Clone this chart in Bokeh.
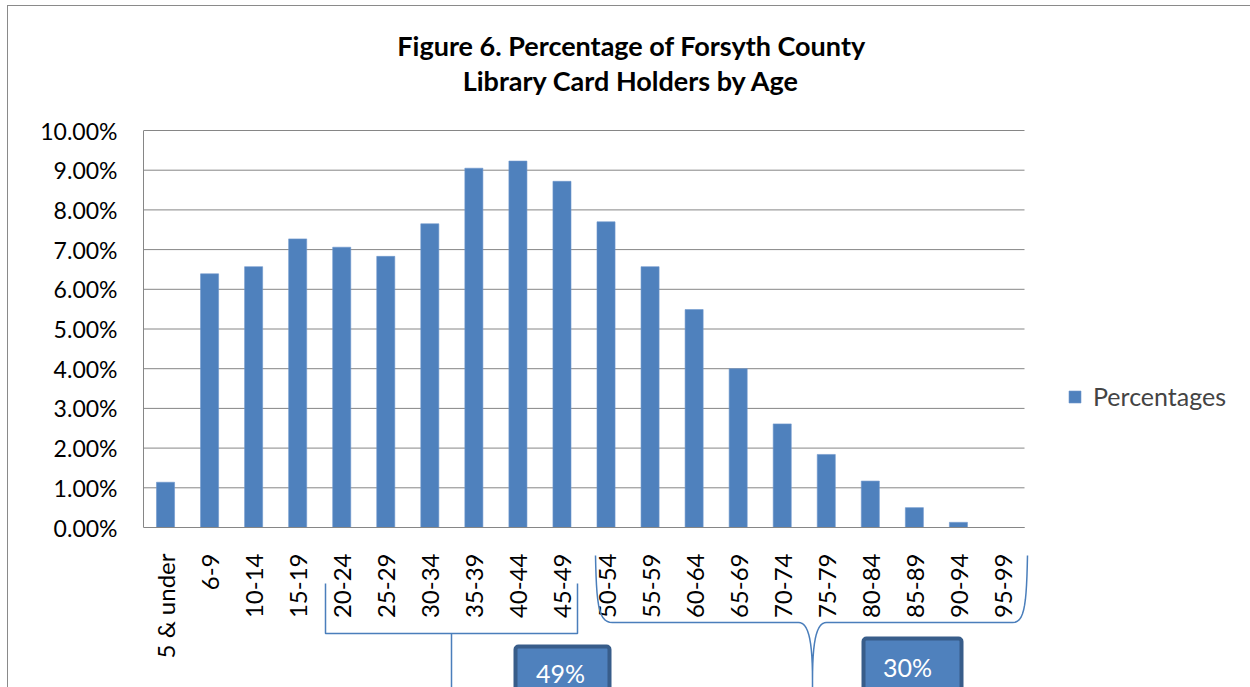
import math
import numpy as np
from bokeh.plotting import figure
from bokeh.models import (Range1d, FixedTicker, PrintfTickFormatter, Legend, LegendItem,
                          PolyAnnotation, BoxAnnotation, Label, ColumnDataSource)
from bokeh.embed import file_html
from bokeh.resources import INLINE

# ---------------- data ----------------
age_groups = ["5 & under", "6-9", "10-14", "15-19", "20-24", "25-29", "30-34", "35-39",
              "40-44", "45-49", "50-54", "55-59", "60-64", "65-69", "70-74", "75-79",
              "80-84", "85-89", "90-94", "95-99"]
percentages = [1.14, 6.39, 6.57, 7.27, 7.06, 6.83, 7.65, 9.05, 9.23, 8.72,
               7.70, 6.57, 5.49, 4.00, 2.61, 1.84, 1.17, 0.50, 0.13, 0.00]
y_ticks = [0, 1, 2, 3, 4, 5, 6, 7, 8, 9, 10]
series_name = "Percentages"
title_lines = ["Figure 6. Percentage of Forsyth County", "Library Card Holders by Age"]
group_labels = ["49%", "30%"]

FONT = "Lato"
BAR = "#4f81bd"
GRID = "#868686"

# ---------------- layout (canvas pixels) ----------------
W, H = 1250, 687
PLOT_L, PLOT_R, PLOT_T = 143, 1024, 130   # the chart's plot area
ZERO_Y = 527                              # where 0% sits
YMAX = 10
n_cat = len(age_groups)
px_per_cat = (PLOT_R - PLOT_L) / n_cat
units_per_px = YMAX / (ZERO_Y - PLOT_T)
# the frame covers the whole canvas right of the y axis, so nothing below/above gets clipped
x_end = (W - PLOT_L) / px_per_cat
y_start = -(H - ZERO_Y) * units_per_px
y_end = ZERO_Y * units_per_px

p = figure(width=W, height=H, output_backend="svg", toolbar_location=None,
           x_range=Range1d(0, x_end), y_range=Range1d(y_start, y_end),
           min_border_left=PLOT_L, min_border_right=0, min_border_top=0, min_border_bottom=0,
           background_fill_color="white", background_fill_alpha=0,
           border_fill_color="white", border_fill_alpha=0)
p.outline_line_color = None
p.styles = {"background": "linear-gradient(#8a8a8a,#8a8a8a) 7px 5px / 1px 100% no-repeat, "
                          "linear-gradient(#8a8a8a,#8a8a8a) 7px 5px / 100% 1px no-repeat, white"}

x_centers = [i + 0.5 for i in range(n_cat)]

# horizontal gridlines, only across the plot area
p.segment(x0=[0] * len(y_ticks), x1=[n_cat] * len(y_ticks), y0=y_ticks, y1=y_ticks,
          line_color=GRID, line_width=1)

src = ColumnDataSource(dict(x=x_centers, y=percentages))
bars = p.vbar(x="x", top="y", width=0.41, source=src, fill_color=BAR,
              line_color="#6f97cc", line_width=0.6)

# axes
p.xgrid.grid_line_color = None
p.ygrid.grid_line_color = None
p.yaxis.ticker = FixedTicker(ticks=y_ticks)
p.yaxis.formatter = PrintfTickFormatter(format="%.2f%%")
p.yaxis.bounds = (0, YMAX)
p.xaxis.ticker = FixedTicker(ticks=x_centers)
p.xaxis.major_label_overrides = {x: lab for x, lab in zip(x_centers, age_groups)}
p.xaxis.bounds = (0, n_cat)
p.xaxis.fixed_location = 0
for ax in (p.xaxis[0], p.yaxis[0]):
    ax.axis_line_color = GRID
    ax.axis_line_width = 1
    ax.major_tick_line_color = None
    ax.minor_tick_line_color = None
    ax.major_tick_out = 0
    ax.major_tick_in = 0
    ax.minor_tick_out = 0
    ax.minor_tick_in = 0
    ax.major_label_text_font = FONT
    ax.major_label_text_color = "black"
p.yaxis.major_label_text_font_size = "23px"
p.yaxis.major_label_standoff = 26
p.xaxis.major_label_text_font_size = "24px"
p.xaxis.major_label_orientation = math.pi / 2
p.xaxis.major_label_standoff = 26


# ------------- annotations (canvas px -> data coords) -------------
def dx(px):
    return (px - PLOT_L) / px_per_cat
def dy(py):
    return (ZERO_Y - py) * units_per_px

# title
for txt, cy in zip(title_lines, [45, 80]):
    p.add_layout(Label(x=dx(631), y=dy(cy), text=txt, text_align="center", text_baseline="middle",
                       text_font=FONT, text_font_style="bold", text_font_size="27px",
                       text_color="black"))

# legend
legend = Legend(items=[LegendItem(label=series_name, renderers=[bars])],
                location=(1067 - PLOT_L, H - 411), padding=0, margin=0, border_line_color=None,
                background_fill_alpha=0, glyph_width=15, glyph_height=15,
                label_standoff=11, label_text_font=FONT, label_text_font_size="25px")
p.add_layout(legend, "center")


def retrace(pts):
    pts = list(pts)
    full = pts + pts[::-1][1:]
    return [dx(a) for a, b in full], [dy(b) for a, b in full]

def bez(p0, p1, p2, p3, n=14):
    pts = []
    for s in np.linspace(0, 1, n):
        a = (1 - s) ** 3; b = 3 * (1 - s) ** 2 * s; c = 3 * (1 - s) * s ** 2; d = s ** 3
        pts.append((a * p0[0] + b * p1[0] + c * p2[0] + d * p3[0],
                    a * p0[1] + b * p1[1] + c * p2[1] + d * p3[1]))
    return pts

LINE = "#4a7ebb"
# square bracket with stem under 20-49
br1 = [(325, 583), (325, 633), (451, 633), (451, 720), (451, 633), (577, 633), (577, 583)]
xs, ys = retrace(br1)
p.add_layout(PolyAnnotation(xs=xs, ys=ys, fill_alpha=0, line_color=LINE, line_width=1.5, line_alpha=1))

# curly brace under 50-99
brace = []
brace += bez((595, 555), (596, 605), (598, 622), (612, 622))
brace += [(798, 622)]
brace += bez((798, 622), (808, 622), (812, 640), (812, 680))
brace += [(812, 720), (812, 680)]
brace += bez((812, 680), (812, 640), (816, 622), (826, 622))
brace += [(1012, 622)]
brace += bez((1012, 622), (1024, 622), (1026, 605), (1027, 555))
xs, ys = retrace(brace)
p.add_layout(PolyAnnotation(xs=xs, ys=ys, fill_alpha=0, line_color=LINE, line_width=1.5, line_alpha=1))

# boxes with share labels
for (l, r, top), txt, (cx, cy) in zip([(515, 609, 646), (863, 961, 638)], group_labels,
                                       [(560, 672), (907, 666)]):
    p.add_layout(BoxAnnotation(left=dx(l), right=dx(r), top=dy(top), bottom=dy(760),
                               fill_color=BAR, fill_alpha=1, line_color="#385d8a",
                               line_width=4, line_alpha=1, border_radius=3))
    p.add_layout(Label(x=dx(cx), y=dy(cy), text=txt, text_align="center", text_baseline="middle",
                       text_color="white", text_font=FONT, text_font_size="25px"))

open("out.html", "w").write(file_html(p, INLINE))
